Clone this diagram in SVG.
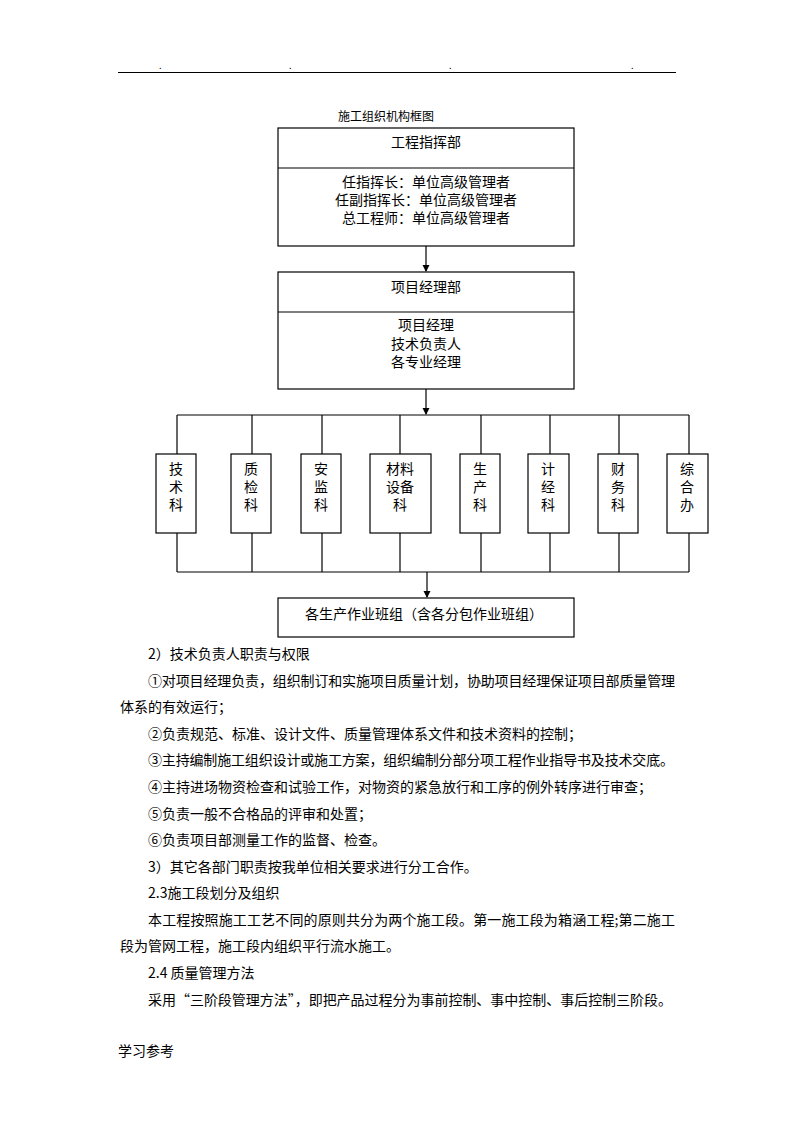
<svg xmlns="http://www.w3.org/2000/svg" width="794" height="1123" viewBox="0 0 794 1123">
<style>
text{font-family:"Noto Sans CJK SC","Noto Sans CJK JP","DejaVu Sans",sans-serif;fill:#000}
.box{fill:#fff;stroke:#000;stroke-width:1.2}
.ln{stroke:#000;stroke-width:1.2;fill:none}
.t14{font-size:14px}
.c{text-anchor:middle}
.body{font-size:14px}
</style>
<defs>
<marker id="arr" markerWidth="7" markerHeight="8" refX="6" refY="3.5" orient="auto" markerUnits="userSpaceOnUse">
<path d="M0,0 L7,3.5 L0,7 Z" fill="#000"/>
</marker>
</defs>
<rect width="794" height="1123" fill="#fff"/>

<!-- page header -->
<line x1="118" y1="72.5" x2="676" y2="72.5" stroke="#000" stroke-width="1"/>
<g font-size="9">
<text x="159" y="69">.</text>
<text x="289" y="69">.</text>
<text x="449" y="69">.</text>
<text x="631" y="69">.</text>
</g>

<text x="386" y="121" class="c" font-size="12">施工组织机构框图</text>

<!-- connectors -->
<g id="connectors">
<line class="ln" x1="426" y1="246" x2="426" y2="271" marker-end="url(#arr)"/>
<line class="ln" x1="426" y1="389" x2="426" y2="414" marker-end="url(#arr)"/>
<line class="ln" x1="177" y1="415" x2="689" y2="415"/>
<line class="ln" x1="177" y1="415" x2="177" y2="454"/>
<line class="ln" x1="252" y1="415" x2="252" y2="454"/>
<line class="ln" x1="322" y1="415" x2="322" y2="454"/>
<line class="ln" x1="400" y1="415" x2="400" y2="454"/>
<line class="ln" x1="481" y1="415" x2="481" y2="454"/>
<line class="ln" x1="550" y1="415" x2="550" y2="454"/>
<line class="ln" x1="619" y1="415" x2="619" y2="454"/>
<line class="ln" x1="689" y1="415" x2="689" y2="454"/>
<line class="ln" x1="177" y1="533" x2="177" y2="572"/>
<line class="ln" x1="252" y1="533" x2="252" y2="572"/>
<line class="ln" x1="322" y1="533" x2="322" y2="572"/>
<line class="ln" x1="400" y1="533" x2="400" y2="572"/>
<line class="ln" x1="481" y1="533" x2="481" y2="572"/>
<line class="ln" x1="550" y1="533" x2="550" y2="572"/>
<line class="ln" x1="619" y1="533" x2="619" y2="572"/>
<line class="ln" x1="689" y1="533" x2="689" y2="572"/>
<line class="ln" x1="177" y1="572" x2="689" y2="572"/>
<line class="ln" x1="427" y1="572" x2="427" y2="597" marker-end="url(#arr)"/>
</g>

<g id="node-hq">
<rect class="box" x="278" y="128" width="296" height="118"/>
<line class="ln" x1="278" y1="168" x2="574" y2="168"/>
<text class="t14 c" x="426" y="147">工程指挥部</text>
<text class="t14 c" x="426" y="187"><tspan x="426">任指挥长：单位高级管理者</tspan><tspan x="426" dy="18">任副指挥长：单位高级管理者</tspan><tspan x="426" dy="18">总工程师：单位高级管理者</tspan></text>
</g>

<g id="node-pm">
<rect class="box" x="278" y="272" width="296" height="117"/>
<line class="ln" x1="278" y1="312" x2="574" y2="312"/>
<text class="t14 c" x="426" y="292">项目经理部</text>
<text class="t14 c" x="426" y="330"><tspan x="426">项目经理</tspan><tspan x="426" dy="19">技术负责人</tspan><tspan x="426" dy="18">各专业经理</tspan></text>
</g>

<g id="node-jishu">
<rect class="box" x="156" y="454" width="40" height="79"/>
<text class="t14 c" x="176" y="474"><tspan x="176">技</tspan><tspan x="176" dy="18">术</tspan><tspan x="176" dy="18">科</tspan></text>
</g>
<g id="node-zhijian">
<rect class="box" x="231" y="454" width="40" height="79"/>
<text class="t14 c" x="251" y="474"><tspan x="251">质</tspan><tspan x="251" dy="18">检</tspan><tspan x="251" dy="18">科</tspan></text>
</g>
<g id="node-anjian">
<rect class="box" x="301" y="454" width="40" height="79"/>
<text class="t14 c" x="321" y="474"><tspan x="321">安</tspan><tspan x="321" dy="18">监</tspan><tspan x="321" dy="18">科</tspan></text>
</g>
<g id="node-cailiao">
<rect class="box" x="370" y="454" width="61" height="79"/>
<text class="t14 c" x="400" y="474"><tspan x="400">材料</tspan><tspan x="400" dy="18">设备</tspan><tspan x="400" dy="18">科</tspan></text>
</g>
<g id="node-shengchan">
<rect class="box" x="460" y="454" width="40" height="79"/>
<text class="t14 c" x="480" y="474"><tspan x="480">生</tspan><tspan x="480" dy="18">产</tspan><tspan x="480" dy="18">科</tspan></text>
</g>
<g id="node-jijing">
<rect class="box" x="528" y="454" width="41" height="79"/>
<text class="t14 c" x="548" y="474"><tspan x="548">计</tspan><tspan x="548" dy="18">经</tspan><tspan x="548" dy="18">科</tspan></text>
</g>
<g id="node-caiwu">
<rect class="box" x="598" y="454" width="40" height="79"/>
<text class="t14 c" x="618" y="474"><tspan x="618">财</tspan><tspan x="618" dy="18">务</tspan><tspan x="618" dy="18">科</tspan></text>
</g>
<g id="node-zonghe">
<rect class="box" x="667" y="454" width="41" height="79"/>
<text class="t14 c" x="687" y="474"><tspan x="687">综</tspan><tspan x="687" dy="18">合</tspan><tspan x="687" dy="18">办</tspan></text>
</g>

<g id="node-teams">
<rect class="box" x="278" y="598" width="296" height="39"/>
<text class="t14 c" x="424" y="619">各生产作业班组（含各分包作业班组）</text>
</g>

<!-- body text -->
<g class="body">
<text x="148" y="659">2）技术负责人职责与权限</text>
<text x="148" y="686" textLength="527" lengthAdjust="spacing">①对项目经理负责，组织制订和实施项目质量计划，协助项目经理保证项目部质量管理</text>
<text x="120" y="712">体系的有效运行；</text>
<text x="148" y="739">②负责规范、标准、设计文件、质量管理体系文件和技术资料的控制；</text>
<text x="148" y="765" textLength="526" lengthAdjust="spacing">③主持编制施工组织设计或施工方案，组织编制分部分项工程作业指导书及技术交底。</text>
<text x="148" y="792">④主持进场物资检查和试验工作，对物资的紧急放行和工序的例外转序进行审查；</text>
<text x="148" y="819">⑤负责一般不合格品的评审和处置；</text>
<text x="148" y="845">⑥负责项目部测量工作的监督、检查。</text>
<text x="148" y="872">3）其它各部门职责按我单位相关要求进行分工合作。</text>
<text x="148" y="898">2.3施工段划分及组织</text>
<text x="148" y="925" textLength="527" lengthAdjust="spacing">本工程按照施工工艺不同的原则共分为两个施工段。第一施工段为箱涵工程;第二施工</text>
<text x="120" y="951">段为管网工程，施工段内组织平行流水施工。</text>
<text x="148" y="978">2.4 质量管理方法</text>
<text x="148" y="1005" textLength="524" lengthAdjust="spacing">采用“三阶段管理方法”，即把产品过程分为事前控制、事中控制、事后控制三阶段。</text>
<text x="118" y="1056">学习参考</text>
</g>
</svg>
